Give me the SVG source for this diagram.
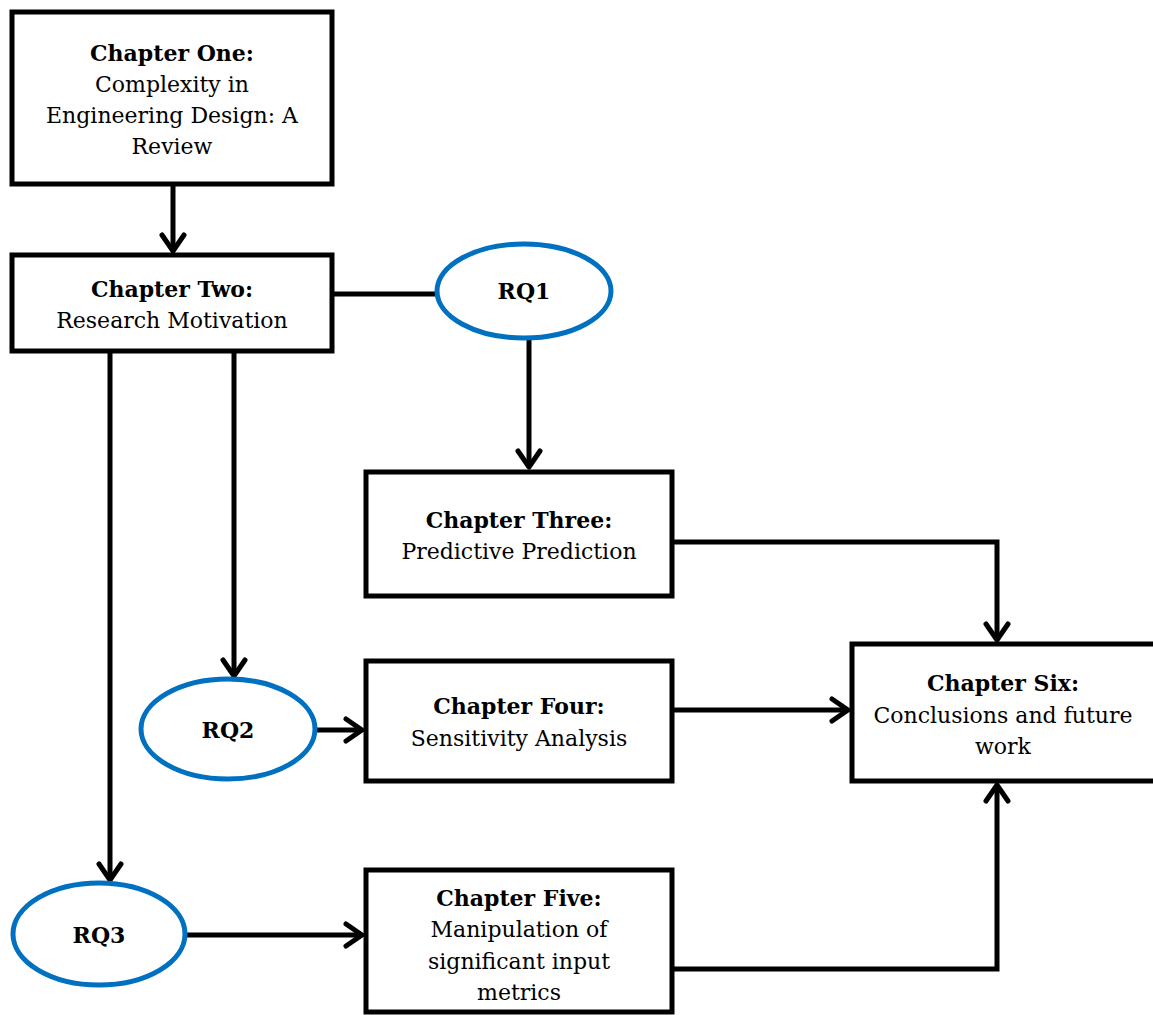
<svg xmlns="http://www.w3.org/2000/svg" width="1153" height="1015" viewBox="0 0 1153 1015">
  <style>
    .box { fill: #ffffff; stroke: #000000; stroke-width: 5; }
    .rq { fill: #ffffff; stroke: #0070C0; stroke-width: 5; }
    .wire { fill: none; stroke: #000000; stroke-width: 5; }
    text { font-family: "DejaVu Serif", "Liberation Serif", serif; font-size: 22px; fill: #000000; text-anchor: middle; }
    .h { font-weight: bold; }
  </style>
  <defs>
    <!-- open chevron arrowhead, tip at the path end -->
    <marker id="arrow" markerUnits="userSpaceOnUse" viewBox="-22 -16 26 32" markerWidth="26" markerHeight="32" refX="0" refY="0" orient="auto">
      <path d="M -16 -11 L 0 0 L -16 11" fill="none" stroke="#000000" stroke-width="5" stroke-linecap="round" stroke-linejoin="round"/>
    </marker>
  </defs>

  <g id="connectors">
    <path class="wire" d="M173 186 V251" marker-end="url(#arrow)"/>
    <path class="wire" d="M334 294 H437"/>
    <path class="wire" d="M529 340 V467" marker-end="url(#arrow)"/>
    <path class="wire" d="M674 542 H997 V640" marker-end="url(#arrow)"/>
    <path class="wire" d="M234 353 V676" marker-end="url(#arrow)"/>
    <path class="wire" d="M317 730 H362" marker-end="url(#arrow)"/>
    <path class="wire" d="M674 710 H848" marker-end="url(#arrow)"/>
    <path class="wire" d="M110 353 V880" marker-end="url(#arrow)"/>
    <path class="wire" d="M187 935 H362" marker-end="url(#arrow)"/>
    <path class="wire" d="M674 969 H997 V785" marker-end="url(#arrow)"/>
  </g>

  <g id="chapter-one">
    <rect class="box" x="12" y="12" width="320" height="172"/>
    <text x="172" y="61" class="h">Chapter One:</text>
    <text x="172" y="92">Complexity in</text>
    <text x="172" y="123">Engineering Design: A</text>
    <text x="172" y="154">Review</text>
  </g>

  <g id="chapter-two">
    <rect class="box" x="12" y="255" width="320" height="96"/>
    <text x="172" y="297" class="h">Chapter Two:</text>
    <text x="172" y="328">Research Motivation</text>
  </g>

  <g id="rq1">
    <ellipse class="rq" cx="524" cy="291" rx="87" ry="47"/>
    <text x="524" y="299" class="h">RQ1</text>
  </g>

  <g id="chapter-three">
    <rect class="box" x="366" y="472" width="306" height="124"/>
    <text x="519" y="528" class="h">Chapter Three:</text>
    <text x="519" y="559">Predictive Prediction</text>
  </g>

  <g id="rq2">
    <ellipse class="rq" cx="228" cy="729" rx="87" ry="50"/>
    <text x="228" y="738" class="h">RQ2</text>
  </g>

  <g id="chapter-four">
    <rect class="box" x="366" y="661" width="306" height="120"/>
    <text x="519" y="714" class="h">Chapter Four:</text>
    <text x="519" y="746">Sensitivity Analysis</text>
  </g>

  <g id="rq3">
    <ellipse class="rq" cx="99" cy="934" rx="86" ry="51"/>
    <text x="99" y="943" class="h">RQ3</text>
  </g>

  <g id="chapter-five">
    <rect class="box" x="366" y="870" width="306" height="142"/>
    <text x="519" y="906" class="h">Chapter Five:</text>
    <text x="519" y="937">Manipulation of</text>
    <text x="519" y="969">significant input</text>
    <text x="519" y="1000">metrics</text>
  </g>

  <g id="chapter-six">
    <rect class="box" x="852" y="644" width="305" height="137"/>
    <text x="1003" y="691" class="h">Chapter Six:</text>
    <text x="1003" y="723">Conclusions and future</text>
    <text x="1003" y="754">work</text>
  </g>
</svg>
